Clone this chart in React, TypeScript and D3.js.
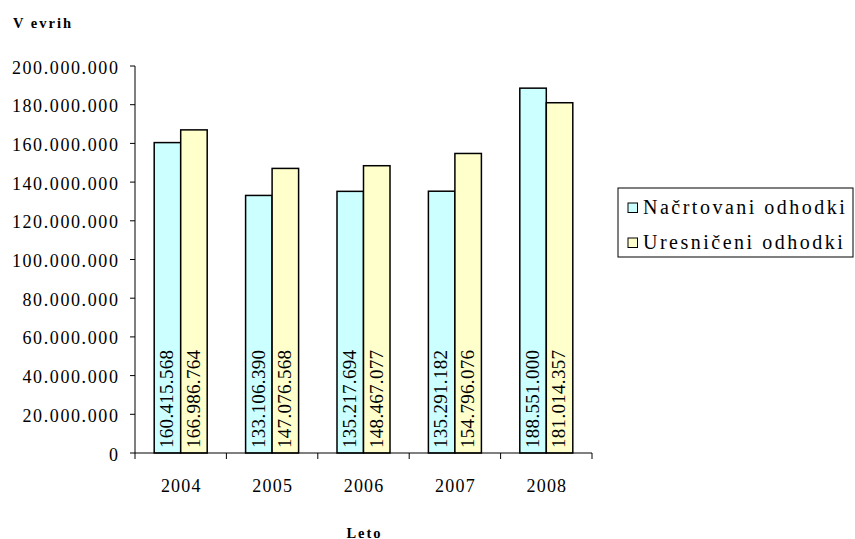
import React from "react";
import * as d3 from "d3";

const years = ["2004", "2005", "2006", "2007", "2008"];
const planned = [160415568, 133106390, 135217694, 135291182, 188551000];
const realized = [166986764, 147076568, 148467077, 154796076, 181014357];
const seriesNames = ["Načrtovani odhodki", "Uresničeni odhodki"];
const seriesColors = ["#CCFFFF", "#FFFFCC"];
const yTicks = [0, 20000000, 40000000, 60000000, 80000000, 100000000, 120000000, 140000000, 160000000, 180000000, 200000000];

const W = 855, H = 539;
const FONT = "Liberation Serif";

const loc = d3.formatLocale({ decimal: ",", thousands: ".", grouping: [3], currency: ["", "€"] });
const fmt = loc.format(",d");

export default function App() {
  const left = 135, right = 592, top = 66, bottom = 453;
  const x = d3.scaleBand<string>().domain(years).range([left, right]).paddingInner(0).paddingOuter(0);
  const y = d3.scaleLinear().domain([0, 200000000]).range([bottom, top]);
  const bw = x.bandwidth();
  const barW = 26.5;
  const series = [planned, realized];

  return (
    <svg width={W} height={H} style={{ position: "absolute", left: 0, top: 0, background: "#fff", fontFamily: FONT }}>
      <text x={13} y={27.5} fontSize={14.5} fontWeight="bold" letterSpacing={2} style={{ fontFamily: FONT }}>V evrih</text>
      {years.map((yr, i) => {
        const cx = (x(yr) as number) + bw / 2;
        return series.map((s, k) => {
          const bx = cx - barW + k * barW;
          const by = y(s[i]);
          return (
            <g key={yr + k}>
              <rect x={bx} y={by} width={barW} height={bottom - by} fill={seriesColors[k]} stroke="#000" strokeWidth={1.5} />
              <text transform={`translate(${bx + 19},${bottom - 5}) rotate(-90)`} fontSize={19} letterSpacing={0.3} style={{ fontFamily: FONT }}>
                {fmt(s[i])}
              </text>
            </g>
          );
        });
      })}
      <line x1={left} x2={left} y1={top} y2={bottom} stroke="#000" strokeWidth={1} />
      {yTicks.map((t) => (
        <g key={t}>
          <line x1={left - 5} x2={left} y1={y(t)} y2={y(t)} stroke="#000" />
          <text x={119.5} y={y(t) + 7.5} textAnchor="end" fontSize={18} letterSpacing={1.6} style={{ fontFamily: FONT }}>{fmt(t)}</text>
        </g>
      ))}
      <line x1={left} x2={right} y1={bottom} y2={bottom} stroke="#000" />
      {years.map((yr) => (
        <line key={yr} x1={x(yr) as number} x2={x(yr) as number} y1={bottom} y2={bottom + 6} stroke="#000" />
      ))}
      <line x1={right} x2={right} y1={bottom} y2={bottom + 6} stroke="#000" />
      {years.map((yr) => (
        <text key={yr} x={(x(yr) as number) + bw / 2 + 0.6} y={492} textAnchor="middle" fontSize={18} letterSpacing={1.2} style={{ fontFamily: FONT }}>{yr}</text>
      ))}
      <text x={(left + right) / 2 + 1} y={537.5} textAnchor="middle" fontSize={14.5} fontWeight="bold" letterSpacing={2} style={{ fontFamily: FONT }}>Leto</text>
      <rect x={618} y={188} width={235} height={69} fill="#fff" stroke="#000" strokeWidth={1} />
      {seriesNames.map((n, k) => (
        <g key={n}>
          <rect x={628} y={203 + k * 35} width={9.5} height={9.5} fill={seriesColors[k]} stroke="#000" strokeWidth={1} />
          <text x={643} y={213.5 + k * 35} fontSize={20} letterSpacing={2.5} style={{ fontFamily: FONT }}>{n}</text>
        </g>
      ))}
    </svg>
  );
}
